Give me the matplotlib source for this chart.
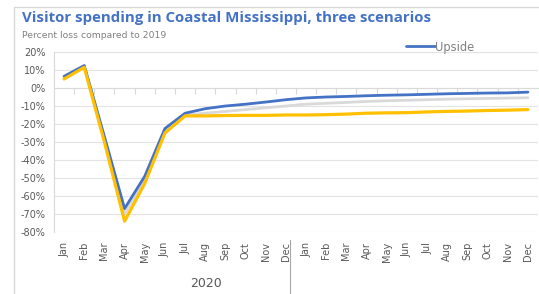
import matplotlib
matplotlib.use("Agg")
import matplotlib.pyplot as plt
from matplotlib.patches import Rectangle
import matplotlib.transforms as mtransforms

months = ["Jan", "Feb", "Mar", "Apr", "May", "Jun", "Jul", "Aug", "Sep", "Oct", "Nov", "Dec",
          "Jan", "Feb", "Mar", "Apr", "May", "Jun", "Jul", "Aug", "Sep", "Oct", "Nov", "Dec"]
year_label = "2020"
upside = [6.5, 12.5, -27, -67, -49, -22.5, -14, -11.5, -10, -9, -7.8, -6.5,
          -5.5, -5, -4.7, -4.3, -4, -3.8, -3.5, -3.2, -3, -2.8, -2.7, -2.3]
baseline = [5.5, 11.8, -28.5, -70, -51, -24, -15, -14, -13, -12, -11, -10,
            -9, -8.5, -8, -7.5, -7.1, -6.8, -6.5, -6.2, -6, -5.8, -5.6, -5.4]
downside = [5, 11.5, -30, -74, -53, -25, -15.5, -15.5, -15.3, -15.2, -15.2, -15,
            -15, -14.8, -14.5, -14, -13.8, -13.7, -13.3, -13, -12.8, -12.5, -12.3, -12]
yticks = list(range(-80, 21, 10))

W, H = 539, 294
fig = plt.figure(figsize=(W / 100, H / 100), dpi=100)
fig.patch.set_facecolor("white")

# outer frame
fig.add_artist(Rectangle((14 / W, -0.2), 1.2, 1.2 - 7 / H, transform=fig.transFigure,
                         fill=False, edgecolor="#D9D9D9", lw=1.0))

ax = fig.add_axes([54 / W, 1 - 232 / H, (538 - 54) / W, 180 / H])
x = list(range(len(months)))
ax.set_xlim(-0.5, len(months) - 0.5)
ax.set_ylim(-80, 20)

for v in yticks:
    ax.axhline(v, color="#E3E3E3", lw=0.8, zorder=0)

ax.plot(x, baseline, color="#D9D9D9", lw=2.0, solid_capstyle="round", zorder=2, label="Baseline")
l_up, = ax.plot(x, upside, color="#4472C4", lw=2.0, solid_capstyle="round", zorder=3, label="Upside")
ax.plot(x, downside, color="#FFC000", lw=2.3, solid_capstyle="round", zorder=4, label="Downside")

for s in ["top", "right", "bottom"]:
    ax.spines[s].set_visible(False)
ax.spines["left"].set_color("#D9D9D9")
ax.spines["left"].set_linewidth(0.8)

ax.set_yticks(yticks)
ax.set_yticklabels([f"{v}%" for v in yticks], fontsize=7, color="#595959")
ax.tick_params(axis="y", length=0, pad=6)
ax.set_xticks(x)
ax.set_xticklabels(months, rotation=90, fontsize=7, color="#595959")
ax.tick_params(axis="x", length=0, pad=7)

# category axis line at 0% with tick marks between categories
sec = ax.secondary_xaxis(0.8)
sec.set_xticks([i + 0.5 for i in x[:-1]])
sec.set_xticklabels([])
sec.xaxis.set_ticks_position("bottom")
sec.tick_params(axis="x", which="both", bottom=True, top=False, length=4,
                color="#D9D9D9", width=0.8, direction="out")
for sp in sec.spines.values():
    sp.set_color("#D9D9D9")
    sp.set_linewidth(0.8)

# year group separator and label
trans = mtransforms.blended_transform_factory(ax.transData, ax.transAxes)
ax.plot([11.2, 11.2], [-0.045, -0.4], transform=trans, color="#A6A6A6", lw=0.8, clip_on=False)
ax.text(7.05, -0.285, year_label, transform=trans, ha="center", va="center",
        fontsize=9, color="#595959")

fig.text(22 / W, 1 - 18 / H, "Visitor spending in Coastal Mississippi, three scenarios",
         fontsize=10.85, fontweight="bold", color="#4472C4", va="center", ha="left",
         family="Open Sans")
fig.text(22 / W, 1 - 35 / H, "Percent loss compared to 2019", fontsize=6.7,
         color="#808080", va="center", ha="left")

ax.legend(handles=[l_up], loc="center left", bbox_to_anchor=(406 / W, 1 - 47 / H),
          bbox_transform=fig.transFigure, frameon=False, fontsize=8.3, handlelength=2.5,
          handletextpad=0.05, borderpad=0, borderaxespad=0, labelcolor="#808080")

fig.savefig("out.png", dpi=100)
